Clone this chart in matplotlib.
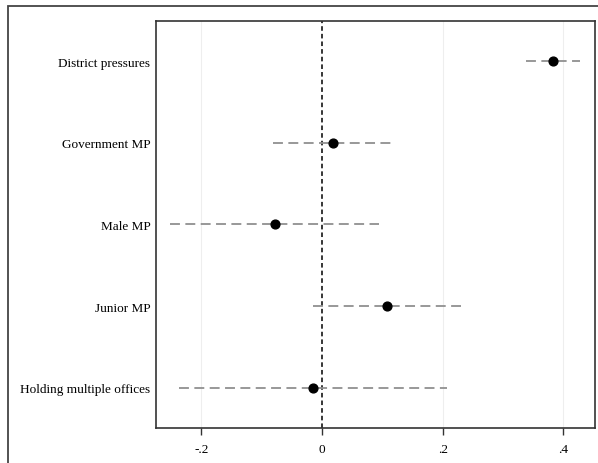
import matplotlib.pyplot as plt
from matplotlib.patches import Rectangle

plt.rcParams['font.family'] = ['Liberation Serif', 'DejaVu Serif']

labels = ["District pressures", "Government MP", "Male MP", "Junior MP", "Holding multiple offices"]
coef = [0.383, 0.018, -0.078, 0.108, -0.015]
ci_low = [0.338, -0.081, -0.252, -0.015, -0.237]
ci_high = [0.428, 0.117, 0.094, 0.231, 0.207]
xticks = [-0.2, 0, 0.2, 0.4]
xticklabels = ["-.2", "0", ".2", ".4"]

fig = plt.figure(figsize=(5.98, 4.64), dpi=100)
ax = fig.add_axes([156 / 598, 1 - 428.7 / 464, (594.7 - 156) / 598, (428.7 - 22) / 464])

# outer frame, cut off at right and bottom like the original
fig.patches.append(Rectangle((8 / 598, -0.1), 1.2, 1 - 7 / 464 + 0.1, transform=fig.transFigure,
                             fill=False, edgecolor="#444444", linewidth=1.3))

ypos = list(range(len(labels), 0, -1))

for x in [-0.2, 0.2, 0.4]:
    ax.axvline(x, color="#eeeeee", linewidth=0.8, zorder=0)
ax.axvline(0, color="black", linestyle=(0, (3, 2)), linewidth=1.1, zorder=1)

for y, lo, hi in zip(ypos, ci_low, ci_high):
    ax.plot([lo, hi], [y, y], color="#909090", linestyle=(0, (5.5, 3)), linewidth=1.3, zorder=2)
ax.scatter(coef, ypos, color="black", s=40, zorder=3)

ax.set_xlim(-0.275, 0.452)
ax.set_ylim(0.51, 5.49)
ax.set_yticks(ypos)
ax.set_yticklabels(labels, fontsize=9.5)
ax.set_xticks(xticks)
ax.set_xticklabels(xticklabels, fontsize=9.5)
ax.tick_params(axis="y", length=0, pad=4)
ax.tick_params(axis="x", length=5, width=1, color="#333333", pad=6)
for s in ax.spines.values():
    s.set_color("#333333")
    s.set_linewidth(1.2)

fig.savefig("out.png", dpi=100)
